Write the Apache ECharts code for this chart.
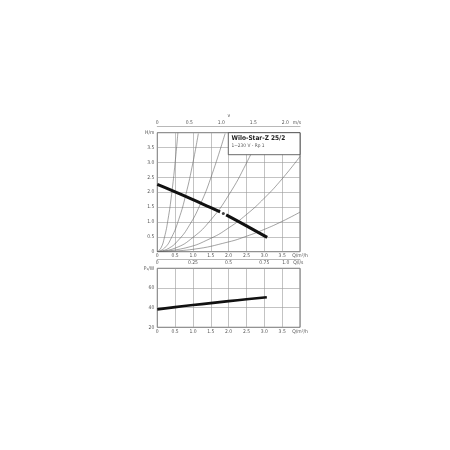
<!DOCTYPE html>
<html>
<head>
<meta charset="utf-8">
<script src="https://cdn.jsdelivr.net/npm/echarts@6/dist/echarts.min.js"></script>
<style>
  html, body { margin: 0; padding: 0; background: #fff; }
  #chart { width: 450px; height: 450px; }
</style>
</head>
<body>
<div id="chart"></div>
<script>
// pump curve H(Q), the gap near the operating point is in the original
var pumpQ = [0, 0.5, 1.0, 1.5, 1.76, 1.85, 1.93, 2.5, 3.08];
var pumpH = [2.26, 2.01, 1.75, 1.48, 1.34, null, 1.24, 0.87, 0.48];
var opPoint = [1.85, 1.28];

// system curves (thin), [Q, H]
var sysA = [[0, 0], [0.1, 0.12], [0.2, 0.48], [0.3, 1.08], [0.4, 1.92], [0.5, 3.0], [0.577, 4.0]];
var sysB = [[0, 0], [0.2, 0.12], [0.4, 0.48], [0.6, 1.08], [0.8, 1.92], [1.0, 3.0], [1.15, 3.97]];
var sysC = [[0, 0], [0.3, 0.1], [0.6, 0.4], [0.9, 0.89], [1.2, 1.58], [1.5, 2.48], [1.9, 3.97]];
var sysD = [[0, 0], [0.5, 0.12], [1.0, 0.48], [1.5, 1.07], [2.0, 1.9], [2.5, 2.98], [2.9, 4.0]];
var sysE = [[0, 0], [0.8, 0.13], [1.5, 0.45], [2.0, 0.8], [2.5, 1.25], [3.0, 1.8], [3.5, 2.45], [4.0, 3.2]];
var sysF = [[0, 0], [1.0, 0.08], [2.0, 0.33], [2.5, 0.52], [3.0, 0.75], [3.5, 1.02], [4.0, 1.33]];

// power input P1(Q)
var powerQ = [0, 0.5, 1.0, 1.5, 2.0, 2.5, 3.07];
var powerP = [38.2, 40.5, 42.6, 44.6, 46.6, 48.5, 50.5];

// l/s scale ticks (placed on the m3/h scale)
var lsTickPos = [0, 1, 2, 3, 3.6];
var lsTickLabels = ['0', '0.25', '0.5', '0.75', '1.0'];

var FONT = '"Liberation Sans Narrow", "DejaVu Sans Condensed", "Liberation Sans", sans-serif';
var lbl = { fontSize: 5, color: '#555', fontFamily: FONT };
var gridLine = { lineStyle: { color: '#9a9a9a', width: 0.6 } };

function fmt1(v) { return v === 0 ? '0' : v.toFixed(1); }
function pairs(xs, ys) { return xs.map(function (x, i) { return [x, ys[i]]; }); }

function sysSeries(d) {
  return {
    type: 'line', xAxisIndex: 0, yAxisIndex: 0, data: d, smooth: true,
    showSymbol: false, silent: true, lineStyle: { color: '#666', width: 0.6 }, z: 2
  };
}

var chart = echarts.init(document.getElementById('chart'), null, { renderer: 'canvas' });

chart.setOption({
  animation: false,
  backgroundColor: '#fff',
  grid: [
    { left: 157.3, top: 132.7, width: 142.7, height: 119, show: true, borderColor: '#444', borderWidth: 0.8 },
    { left: 157.3, top: 268.3, width: 142.7, height: 59, show: true, borderColor: '#444', borderWidth: 0.8 }
  ],
  xAxis: [
    {
      gridIndex: 0, type: 'value', position: 'bottom', min: 0, max: 4, interval: 0.5,
      axisLine: { show: false }, axisTick: { show: false }, splitLine: gridLine,
      axisLabel: Object.assign({}, lbl, { margin: 1.5, formatter: function (v) { return v === 4 ? 'Q/m³/h' : fmt1(v); } })
    },
    {
      gridIndex: 0, type: 'value', position: 'top', offset: 6.4, min: 0, max: 2.23, interval: 0.5,
      axisLine: { show: true, lineStyle: { color: '#888', width: 0.6 } }, axisTick: { show: false },
      splitLine: { show: false },
      axisLabel: Object.assign({}, lbl, { margin: 1, showMaxLabel: false, formatter: fmt1 }),
      name: 'm/s', nameLocation: 'end', nameGap: 0,
      nameTextStyle: Object.assign({}, lbl, { align: 'right', verticalAlign: 'bottom', padding: [0, 0, 1, 0] })
    },
    {
      gridIndex: 1, type: 'value', position: 'bottom', min: 0, max: 4, interval: 0.5,
      axisLine: { show: false }, axisTick: { show: false }, splitLine: gridLine,
      axisLabel: Object.assign({}, lbl, { margin: 1.5, formatter: function (v) { return v === 4 ? 'Q/m³/h' : fmt1(v); } })
    },
    {
      gridIndex: 1, type: 'value', position: 'top', offset: 9.3, min: 0, max: 4,
      axisLine: { show: true, lineStyle: { color: '#888', width: 0.6 } }, axisTick: { show: false },
      splitLine: { show: false },
      axisLabel: Object.assign({}, lbl, {
        inside: true, margin: 1.5, customValues: lsTickPos,
        formatter: function (v) { var i = lsTickPos.indexOf(v); return i < 0 ? '' : lsTickLabels[i]; }
      }),
      name: 'Q/l/s', nameLocation: 'end', nameGap: 0,
      nameTextStyle: Object.assign({}, lbl, { align: 'right', verticalAlign: 'top', padding: [1.5, 0, 0, 0] })
    }
  ],
  yAxis: [
    {
      gridIndex: 0, type: 'value', min: 0, max: 4, interval: 0.5,
      axisLine: { show: false }, axisTick: { show: false }, splitLine: gridLine,
      axisLabel: Object.assign({}, lbl, { margin: 3, formatter: function (v) { return v === 4 ? 'H/m' : fmt1(v); } })
    },
    {
      gridIndex: 1, type: 'value', min: 20, max: 80, interval: 20,
      axisLine: { show: false }, axisTick: { show: false }, splitLine: gridLine,
      axisLabel: Object.assign({}, lbl, { margin: 3, formatter: function (v) { return v === 80 ? 'P₁/W' : String(v); } })
    }
  ],
  series: [
    sysSeries(sysA), sysSeries(sysB), sysSeries(sysC),
    sysSeries(sysD), sysSeries(sysE), sysSeries(sysF),
    {
      type: 'line', xAxisIndex: 0, yAxisIndex: 0, data: pairs(pumpQ, pumpH),
      smooth: true, connectNulls: false, showSymbol: false, silent: true,
      lineStyle: { color: '#111', width: 3 }, z: 5
    },
    {
      type: 'scatter', xAxisIndex: 0, yAxisIndex: 0, data: [opPoint],
      symbolSize: 3, itemStyle: { color: '#111' }, silent: true, z: 6
    },
    {
      type: 'line', xAxisIndex: 2, yAxisIndex: 1, data: pairs(powerQ, powerP),
      smooth: true, showSymbol: false, silent: true,
      lineStyle: { color: '#111', width: 2.6 }, z: 5
    }
  ],
  graphic: [
    {
      type: 'rect', z: 100,
      shape: { x: 228.3, y: 132.7, width: 71.7, height: 22 },
      style: { fill: '#fff', stroke: '#444', lineWidth: 0.8 }
    },
    {
      type: 'text', z: 101, left: 231.5, top: 135,
      style: { text: 'Wilo-Star-Z 25/2', fontSize: 6.5, fontWeight: 'bold', fill: '#222', fontFamily: FONT }
    },
    {
      type: 'text', z: 101, left: 231.5, top: 143.5,
      style: { text: '1~230 V - Rp 1', fontSize: 4.8, fill: '#555', fontFamily: FONT }
    },
    {
      type: 'text', z: 101, left: 227.5, top: 113,
      style: { text: 'v', fontSize: 5, fill: '#555', fontFamily: FONT }
    }
  ]
});
</script>
</body>
</html>
